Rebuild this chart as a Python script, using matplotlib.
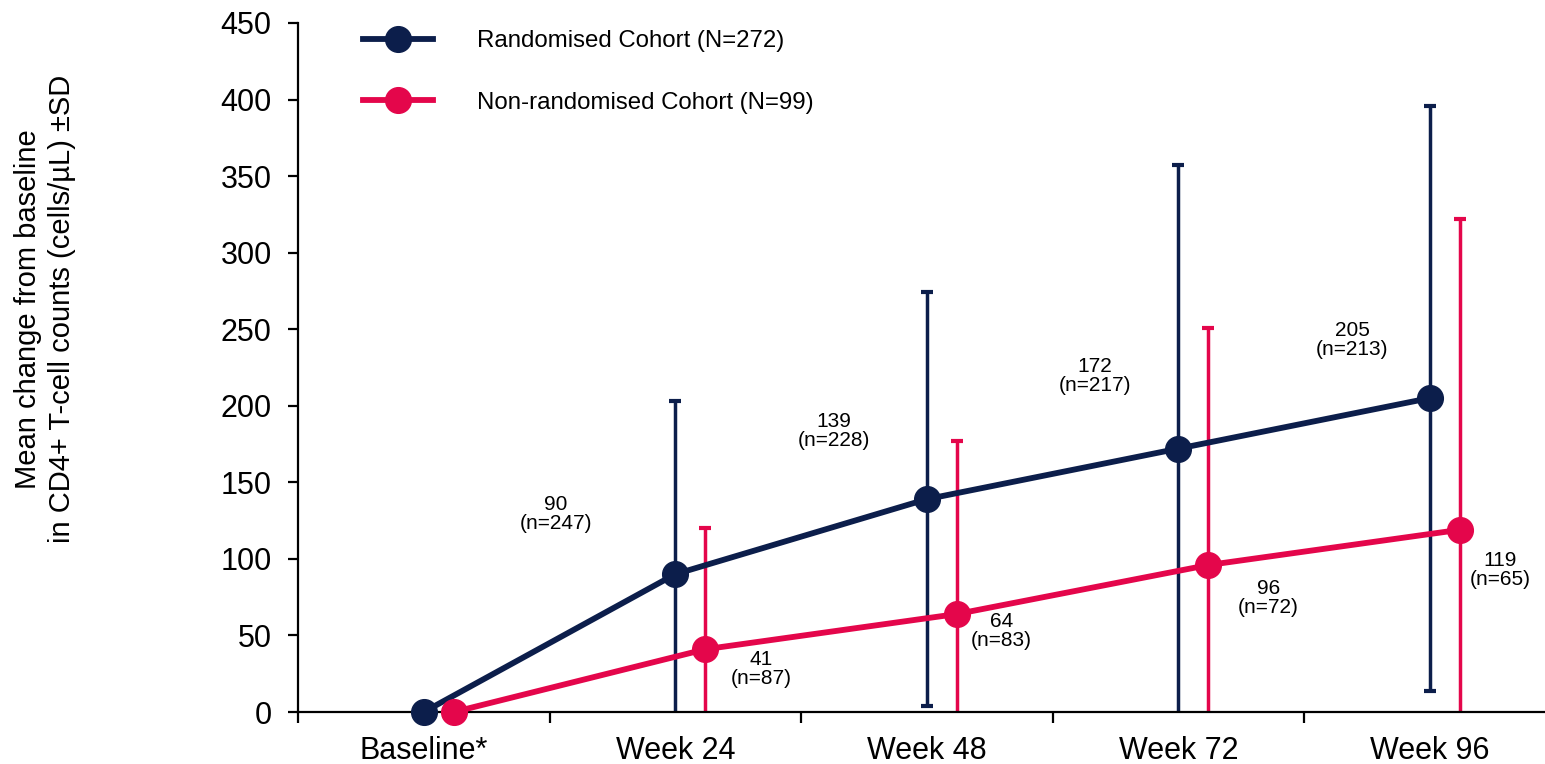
import numpy as np
import matplotlib
matplotlib.use("Agg")
import matplotlib.pyplot as plt
from matplotlib.lines import Line2D

plt.rcParams["font.family"] = ["Liberation Sans", "DejaVu Sans"]

# ---- data -------------------------------------------------------------
timepoints = ["Baseline*", "Week 24", "Week 48", "Week 72", "Week 96"]

rand_label = "Randomised Cohort (N=272)"
rand_mean = [0, 90, 139, 172, 205]
rand_sd = [None, 113, 135, 185, 191]
rand_n = [None, 247, 228, 217, 213]

nonrand_label = "Non-randomised Cohort (N=99)"
nonrand_mean = [0, 41, 64, 96, 119]
nonrand_sd = [None, 79, 113, 155, 203]
nonrand_n = [None, 87, 83, 72, 65]

y_ticks = [0, 50, 100, 150, 200, 250, 300, 350, 400, 450]

# ---- style ------------------------------------------------------------
NAVY = "#0C1E4B"
RED = "#E4064B"
DODGE = 0.12            # horizontal shift of the second cohort
LW = 4.2
MS = 18.5
# annotation offsets (points) relative to each point
rand_text_off = [None, (-86, 43), (-67, 49), (-60, 52), (-56, 42)]
nonrand_text_off = [None, (40, -14), (32, -12), (43, -24), (29, -29)]

fig = plt.figure(figsize=(15.45, 7.64), dpi=100)
ax = fig.add_axes([298 / 1545, 52 / 764, 1257.5 / 1545, 689 / 764])

x = np.arange(len(timepoints))


def draw_series(xpos, mean, sd, ns, offs, color, label):
    idx = [i for i, s in enumerate(sd) if s is not None]
    ax.errorbar(xpos[idx], np.array(mean)[idx], yerr=np.array([sd[i] for i in idx]),
                fmt="none", ecolor=color, elinewidth=2.5, capsize=4.5,
                capthick=3.0, zorder=2, clip_on=True)
    ax.plot(xpos, mean, color=color, lw=LW, marker="o", markersize=MS,
            zorder=3, clip_on=False, label=label)
    for i in idx:
        ax.annotate(f"{mean[i]}\n(n={ns[i]})", (xpos[i], mean[i]),
                    xytext=offs[i], textcoords="offset points",
                    ha="center", va="center", fontsize=15,
                    linespacing=1.0, color="black", zorder=4)


draw_series(x.astype(float), rand_mean, rand_sd, rand_n, rand_text_off, NAVY, rand_label)
draw_series(x + DODGE, nonrand_mean, nonrand_sd, nonrand_n, nonrand_text_off, RED, nonrand_label)

# ---- axes -------------------------------------------------------------
ax.set_xlim(-0.5, len(timepoints) - 0.5)
ax.set_ylim(0, 450)
ax.set_yticks(y_ticks)
ax.set_xticks(x)
ax.set_xticklabels(timepoints)
ax.set_xticks(np.arange(-0.5, len(timepoints)), minor=True)
ax.tick_params(axis="x", which="major", length=0, pad=17, labelsize=22)
ax.tick_params(axis="x", which="minor", length=8, width=1.6, direction="out")
ax.tick_params(axis="y", length=7, width=1.6, pad=12, labelsize=22)

for side in ("top", "right"):
    ax.spines[side].set_visible(False)
for side in ("left", "bottom"):
    ax.spines[side].set_linewidth(1.6)

fig.text(45 / 1545, 1 - 309 / 764,
         "Mean change from baseline\nin CD4+ T-cell counts (cells/µL) ±SD",
         rotation=90, ha="center", va="center", fontsize=21,
         multialignment="center", linespacing=1.3)

handles = [Line2D([], [], color=NAVY, lw=LW, marker="o", markersize=MS),
           Line2D([], [], color=RED, lw=LW, marker="o", markersize=MS)]
fig.legend(handles, [rand_label, nonrand_label], loc="upper left",
           bbox_to_anchor=(363 / 1545, 1 - 30 / 764), frameon=False,
           fontsize=17.3, handlelength=2.9, handletextpad=1.85,
           labelspacing=1.65, borderpad=0, borderaxespad=0, numpoints=1)

fig.savefig("out.png", dpi=100)
